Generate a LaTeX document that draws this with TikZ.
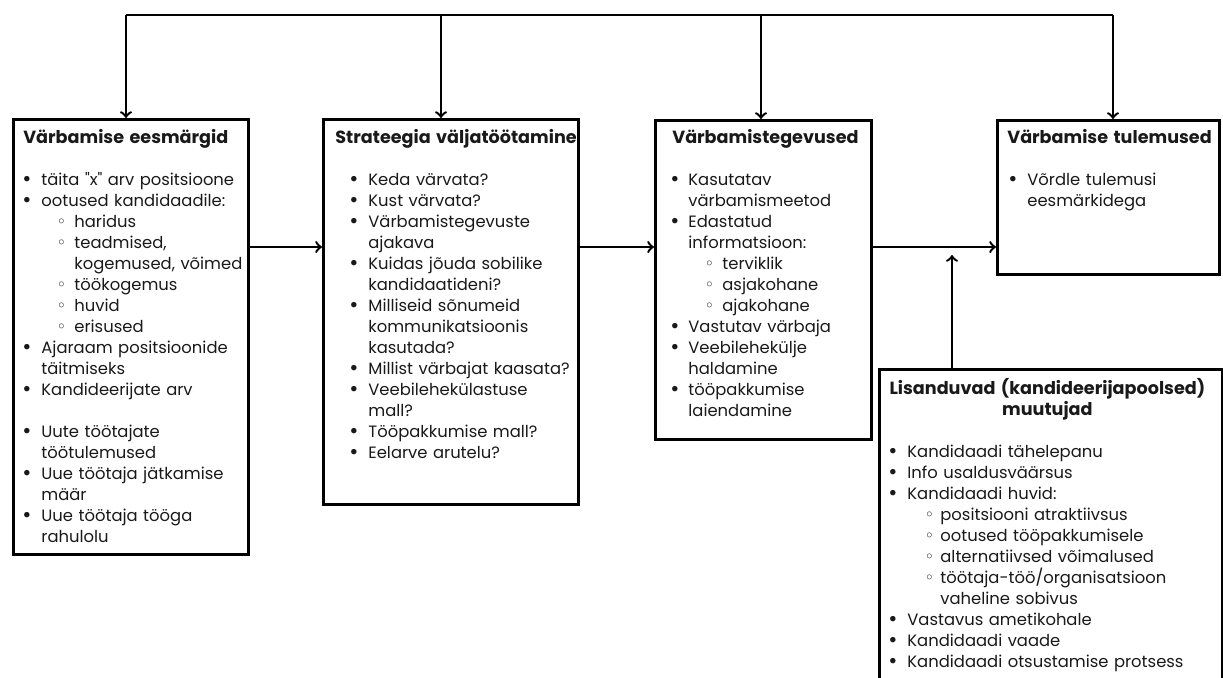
\documentclass[tikz,border=0pt]{standalone}
\usepackage{fontspec}
\setmainfont{Poppins}
\newfontfamily\symfont{DejaVu Sans}
\usepackage{enumitem}
\setlist[itemize]{nosep,leftmargin=9pt,labelsep=5pt}
\setlist[itemize,1]{label=\smash{\raisebox{-0.6pt}{\scalebox{1.35}{\textbullet}}}}
\setlist[itemize,2]{label={\symfont ◦},leftmargin=17pt,labelsep=4pt}
\newcommand\boxtitle[1]{{\fontsize{8.8}{10.5}\selectfont\bfseries #1}}

\begin{document}
\begin{tikzpicture}[x=0.5pt,y=-0.5pt,
  box/.style={draw,line width=1.6pt,anchor=north west,inner sep=0pt},
  txt/.style={anchor=north west,inner sep=0pt,align=left,
    font=\fontsize{8.2}{10.5}\selectfont,text=black!90},
  conn/.style={line width=1.2pt,->}]
\path[use as bounding box,clip] (0,0) rectangle (1223,677);
% boxes
\node[box,minimum width=117.5pt,minimum height=217.5pt] (goals) at (12,118) {};
\node[box,minimum width=127.5pt,minimum height=192.5pt] (strategy) at (322,118) {};
\node[box,minimum width=108pt,minimum height=159.5pt] (activities) at (654,119) {};
\node[box,minimum width=111pt,minimum height=77pt] (results) at (996,119) {};
\node[box,minimum width=171.5pt,minimum height=166pt] (factors) at (878,368) {};
% box texts
\node[txt,text width=118pt] (goalstxt) at (23,129) {\boxtitle{Värbamise eesmärgid}\par\vspace{10.5pt}
\begin{itemize}
\item täita \textquotedbl x\textquotedbl{} arv positsioone
\item ootused kandidaadile:
  \begin{itemize}[leftmargin=16.5pt]
  \item haridus
  \item teadmised,\newline kogemused, võimed
  \item töökogemus
  \item huvid
  \item erisused
  \end{itemize}
\item Ajaraam positsioonide\newline täitmiseks
\item Kandideerijate arv
\item[] \mbox{}
\item Uute töötajate\newline töötulemused
\item Uue töötaja jätkamise\newline määr
\item Uue töötaja tööga\newline rahulolu
\end{itemize}};
\node[txt,text width=128pt] (strategytxt) at (335,129) {\boxtitle{Strateegia väljatöötamine}\par\vspace{10.5pt}
\begin{itemize}[leftmargin=16.5pt]
\item Keda värvata?
\item Kust värvata?
\item Värbamistegevuste\newline ajakava
\item Kuidas jõuda sobilike\newline kandidaatideni?
\item Milliseid sõnumeid\newline kommunikatsioonis\newline kasutada?
\item Millist värbajat kaasata?
\item Veebilehekülastuse\newline mall?
\item Tööpakkumise mall?
\item Eelarve arutelu?
\end{itemize}};
\node[txt,text width=100pt] (activitiestxt) at (672,129) {\boxtitle{Värbamistegevused}\par\vspace{10.5pt}
\begin{itemize}[leftmargin=8pt,labelsep=4.5pt]
\item Kasutatav\newline värbamismeetod
\item Edastatud\newline informatsioon:
  \begin{itemize}
  \item terviklik
  \item asjakohane
  \item ajakohane
  \end{itemize}
\item Vastutav värbaja
\item Veebilehekülje\newline haldamine
\item tööpakkumise\newline laiendamine
\end{itemize}};
\node[txt,text width=107pt] (resultstxt) at (1007,129) {\boxtitle{Värbamise tulemused}\par\vspace{10.5pt}
\begin{itemize}[leftmargin=10pt]
\item Võrdle tulemusi\newline eesmärkidega
\end{itemize}};
\node[txt,text width=165pt] (factorstxt) at (882,378) {{\centering\boxtitle{Lisanduvad (kandideerijapoolsed)}\par\boxtitle{muutujad}\par}\vspace{10.5pt}
\begin{itemize}[leftmargin=12.5pt]
\item Kandidaadi tähelepanu
\item Info usaldusväärsus
\item Kandidaadi huvid:
  \begin{itemize}[leftmargin=16.5pt,labelsep=3pt]
  \item positsiooni atraktiivsus
  \item ootused tööpakkumisele
  \item alternatiivsed võimalused
  \item töötaja-töö/organisatsioon\newline vaheline sobivus
  \end{itemize}
\item Vastavus ametikohale
\item Kandidaadi vaade
\item Kandidaadi otsustamise protsess
\end{itemize}};
% feedback line over the boxes
\coordinate (bus1) at (126,15);
\coordinate (bus2) at (441,15);
\coordinate (bus3) at (761,15);
\coordinate (bus4) at (1113,15);
\draw[line width=1.2pt] (bus1) -- (bus4);
\foreach \b/\n in {bus1/goals,bus2/strategy,bus3/activities,bus4/results}
  \draw[conn] (\b) -- (\b |- \n.north);
% main flow
\coordinate (flow) at (0,247);
\draw[conn] (goals.east |- flow) -- (strategy.west |- flow);
\draw[conn] (strategy.east |- flow) -- (activities.west |- flow);
\draw[conn] (activities.east |- flow) -- (results.west |- flow);
\coordinate (uptip) at (952,255);
\draw[conn] (uptip |- factors.north) -- (uptip);
\end{tikzpicture}
\end{document}
